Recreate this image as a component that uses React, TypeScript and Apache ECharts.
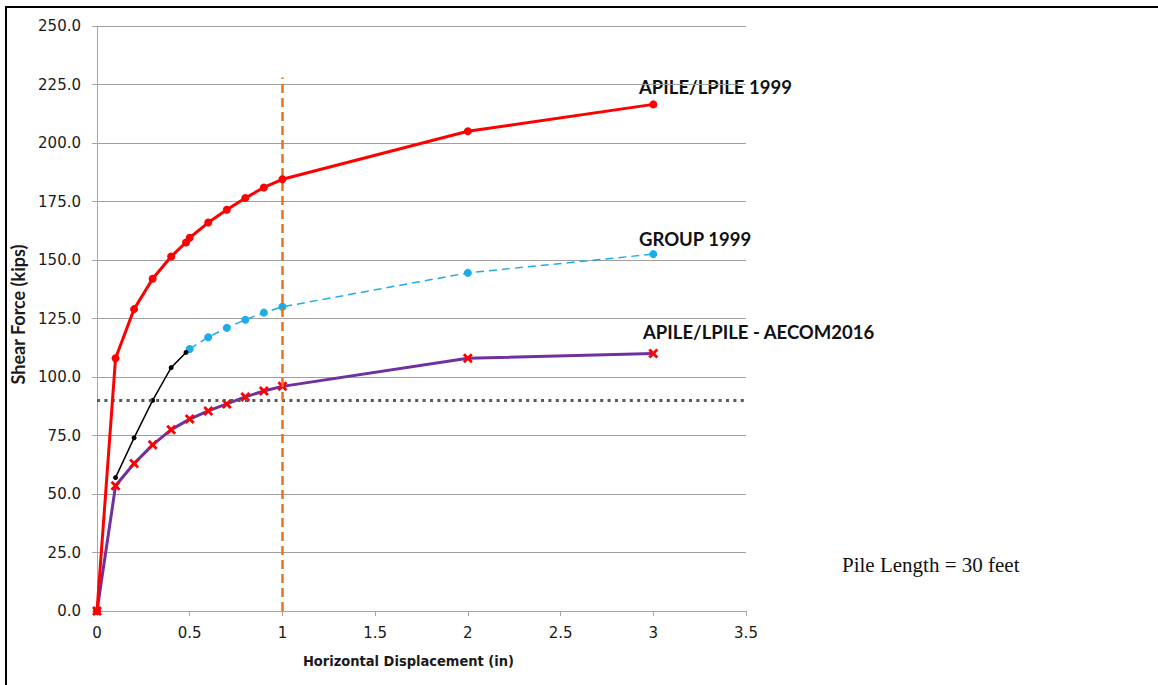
import React, { useEffect, useRef } from "react";
import * as echarts from "echarts";

// Lateral load test curves: shear force vs. horizontal displacement
const apile1999X = [0, 0.1, 0.2, 0.3, 0.4, 0.48, 0.5, 0.6, 0.7, 0.8, 0.9, 1.0, 2.0, 3.0];
const apile1999Y = [0, 108, 129, 142, 151.5, 157.5, 159.5, 166, 171.5, 176.5, 181, 184.5, 205, 216.5];

const groupInitX = [0.1, 0.2, 0.3, 0.4, 0.48];
const groupInitY = [57, 74, 90, 104, 110.5];

const group1999X = [0.5, 0.6, 0.7, 0.8, 0.9, 1.0, 2.0, 3.0];
const group1999Y = [112, 117, 121, 124.5, 127.5, 130, 144.5, 152.5];

const aecomX = [0, 0.1, 0.2, 0.3, 0.4, 0.5, 0.6, 0.7, 0.8, 0.9, 1.0, 2.0, 3.0];
const aecomY = [0, 53.5, 63, 71, 77.5, 82, 85.5, 88.5, 91.5, 94, 96, 108, 110];

const xTicks = { min: 0, max: 3.5, interval: 0.5 };
const yTicks = { min: 0, max: 250, interval: 25 };

const designLoad = 90; // horizontal reference line (kips)
const designDisp = 1; // vertical reference line (in)
const designDispTop = 228;

const pair = (xs: number[], ys: number[]) => xs.map((x, i) => [x, ys[i]]);

const xMarker = "path://M2,0 L5,3 L8,0 L10,2 L7,5 L10,8 L8,10 L5,7 L2,10 L0,8 L3,5 L0,2 Z";

export default function App() {
  const ref = useRef<HTMLDivElement>(null);

  useEffect(() => {
    if (!ref.current) return;
    const chart = echarts.init(ref.current, undefined, { renderer: "svg" });
    const axisGray = "#A6A6A6";
    const tickFont = { fontFamily: "DejaVu Sans", fontSize: 15, color: "#1a1a1a" };
    const noteFont = { fontFamily: "Lato", fontWeight: "bold", fontSize: 18.5, fill: "#111" };

    chart.setOption({
      animation: false,
      backgroundColor: "#ffffff",
      grid: { left: 97, right: 412, top: 26, bottom: 74, containLabel: false },
      xAxis: {
        type: "value",
        ...xTicks,
        name: "Horizontal Displacement (in)",
        nameLocation: "middle",
        nameGap: 42,
        nameTextStyle: {
          fontFamily: "DejaVu Sans Condensed",
          fontWeight: "bold",
          fontSize: 14.5,
          color: "#1a1a1a",
          padding: [0, 26, 0, 0],
        },
        axisLine: { lineStyle: { color: axisGray, width: 1 } },
        axisTick: { show: true, length: 5, lineStyle: { color: axisGray } },
        axisLabel: { ...tickFont, margin: 14, formatter: (v: number) => String(v) },
        splitLine: { show: false },
      },
      yAxis: {
        type: "value",
        ...yTicks,
        name: "Shear Force (kips)",
        nameLocation: "middle",
        nameGap: 64,
        nameTextStyle: {
          fontFamily: "Lato",
          fontWeight: "bold",
          fontSize: 18,
          color: "#1a1a1a",
          padding: [0, 0, 0, 8],
        },
        axisLine: { show: true, lineStyle: { color: axisGray, width: 1 } },
        axisTick: { show: true, length: 5, lineStyle: { color: axisGray } },
        axisLabel: { ...tickFont, margin: 16, formatter: (v: number) => v.toFixed(1) },
        splitLine: { show: true, lineStyle: { color: "#A0A0A0", width: 1 } },
      },
      series: [
        {
          name: "GROUP 1999",
          type: "line",
          data: pair(group1999X, group1999Y),
          symbol: "circle",
          symbolSize: 8,
          itemStyle: { color: "#1BADE8" },
          lineStyle: { color: "#1BADE8", width: 1.5, type: [8, 5] },
          z: 3,
        },
        {
          name: "GROUP initial",
          type: "line",
          data: pair(groupInitX, groupInitY),
          symbol: "circle",
          symbolSize: 5,
          itemStyle: { color: "#000000" },
          lineStyle: { color: "#000000", width: 1.5 },
          z: 3,
        },
        {
          name: "APILE/LPILE - AECOM2016",
          type: "line",
          data: pair(aecomX, aecomY),
          symbol: xMarker,
          symbolSize: 10,
          itemStyle: { color: "#FF0000" },
          lineStyle: { color: "#7030A0", width: 3 },
          z: 4,
          markLine: {
            silent: true,
            symbol: "none",
            label: { show: false },
            lineStyle: { color: "#595959", width: 3, type: [3, 4.4] },
            data: [{ yAxis: designLoad }],
          },
        },
        {
          name: "APILE/LPILE 1999",
          type: "line",
          data: pair(apile1999X, apile1999Y),
          symbol: "circle",
          symbolSize: 8,
          itemStyle: { color: "#FF0000" },
          lineStyle: { color: "#FF0000", width: 3 },
          z: 5,
          markLine: {
            silent: true,
            symbol: "none",
            label: { show: false },
            lineStyle: { color: "#E8731A", width: 2.5, type: [9, 5] },
            data: [[{ coord: [designDisp, 0] }, { coord: [designDisp, designDispTop] }]],
          },
        },
      ],
      graphic: [
        {
          type: "line",
          shape: { x1: 6, y1: 7, x2: 6, y2: 685 },
          style: { stroke: "#000", lineWidth: 2 },
        },
        {
          type: "line",
          shape: { x1: 5, y1: 7, x2: 1158, y2: 7 },
          style: { stroke: "#000", lineWidth: 2 },
        },
        { type: "text", left: 639, top: 77, style: { text: "APILE/LPILE 1999", ...noteFont } },
        { type: "text", left: 639, top: 229, style: { text: "GROUP 1999", ...noteFont } },
        { type: "text", left: 643, top: 322, style: { text: "APILE/LPILE - AECOM2016", ...noteFont } },
        {
          type: "text",
          left: 842,
          top: 554,
          style: { text: "Pile Length = 30 feet", fontFamily: "Liberation Serif", fontSize: 21, fill: "#111" },
        },
      ],
    });

    return () => chart.dispose();
  }, []);

  return (
    <div
      ref={ref}
      style={{ position: "fixed", left: 0, top: 0, width: 1158, height: 685, background: "#fff" }}
    />
  );
}
